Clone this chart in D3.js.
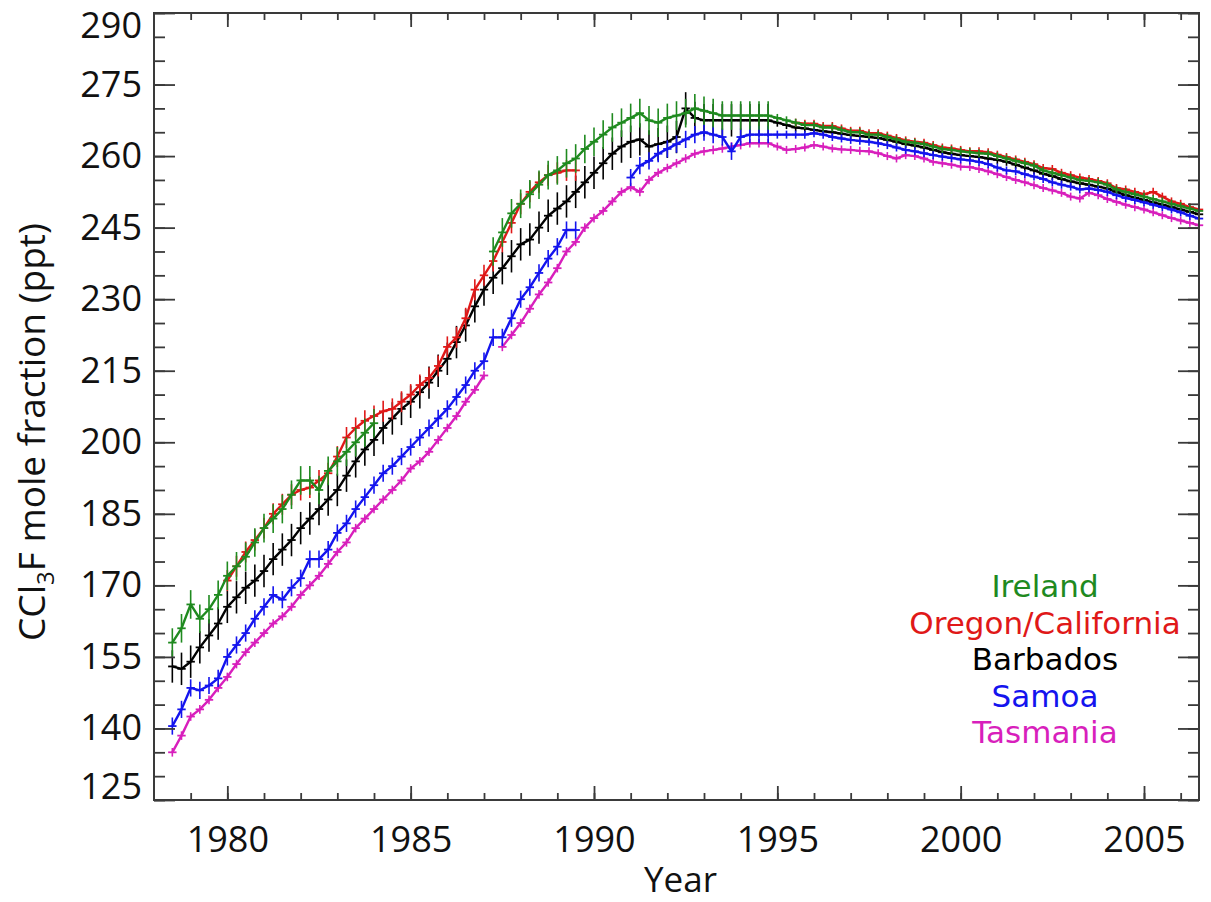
<!DOCTYPE html>
<html><head><meta charset="utf-8">
<script src="https://cdn.jsdelivr.net/npm/d3@7"></script>
<style>
body{margin:0;background:#fff}
svg{display:block}
text{font-family:"Open Sans","Noto Sans",sans-serif;}
</style>
</head><body>
<svg id="chart" width="1211" height="902"></svg>
<script>
// ---- data: quarterly readings, first value at 1978.50, step 0.25 year ----
const startYear = 1978.5;
const stepYears = 0.25;

const ireland = [
  158, 161,
  166, 163, 165, 168,
  172, 174, 176, 179,
  182, 184, 186, 189,
  192, 192, 190, 194,
  196, 198, 200, 202,
  204, null, null, null,
  null, null, null, null,
  null, null, null, null,
  null, 240, 244, 248,
  250, 252, 254, 256,
  257, 258.5, 259.5, 261.5,
  263, 264.5, 266, 267,
  268, 269, 267.5, 267,
  268, 268.5, 269, 270,
  269.5, 269, 268.5, 268.5,
  268.5, 268.5, 268.5, 268.5,
  268, 267.5, 267, 266.5,
  266.5, 266, 266, 265.5,
  265, 265, 264.5, 264.5,
  264, 263.5, 263, 262.8,
  262.5, 262, 261.5, 261.3,
  261, 260.8, 260.6, 260.5,
  260, 259.5, 259, 258.5,
  258, 257, 256.5, 256,
  255.5, 255, 254.8, 254.5,
  254, 253, 252.5, 252,
  251.5, 251, 250.5, 250,
  249.5, 249, 248.5
];

const oregonCalifornia = [
  null, null,
  null, null, null, null,
  171, 174, 177, 179.5,
  182, 185, 187, 189,
  190, 190.5, 192, 193.5,
  197, 201, 203, 204.5,
  205.5, 206.5, 207, 208.5,
  210, 212, 213.5, 216,
  220, 222, 226, 232,
  235, 238, 242, 246,
  250, 252.5, 254.5, 256,
  256.5, 257, 257, null,
  null, null, null, null,
  null, null, null, null,
  null, null, null, null,
  null, null, null, null,
  null, null, null, null,
  null, null, 267, 266.8,
  266.8, 266.3, 266.3, 265.8,
  265.3, 265.3, 264.8, 264.8,
  264.3, 263.8, 263.3, 263,
  262.8, 262.3, 261.8, 261.6,
  261.3, 261, 261, 260.8,
  260.3, 259.8, 259.3, 258.8,
  258.3, 257.5, 257.3, 256.5,
  256, 255.5, 255.2, 254.8,
  254.3, 253.3, 253, 252.5,
  252, 252.5, 251.5, 250.5,
  250, 249.3, 248.8
];

const barbados = [
  153, 152.5,
  154, 157, 159.5, 162,
  165.5, 167.5, 169.5, 171,
  173, 175.5, 177.5, 179.5,
  182, 184, 186, 188,
  190, 193, 196, 198.5,
  200.5, 203, 205, 207,
  208.5, 210.5, 212.5, 215,
  217.5, 221, 224.5, 228.5,
  232, 234.5, 236.5, 239,
  241.5, 242.5, 245, 247.5,
  249, 250.5, 252.5, 254.5,
  256.5, 258.5, 260.5, 262,
  263, 263.5, 262, 262.5,
  263, 264, 270, 268,
  267.5, 267.5, 267.5, 267.5,
  267.5, 267.5, 267.5, 267.5,
  267, 266.5, 266, 265.8,
  265.5, 265.2, 265, 264.7,
  264.4, 264.2, 264, 263.8,
  263.4, 263, 262.5, 262.2,
  261.8, 261.3, 260.8, 260.5,
  260.2, 260, 259.8, 259.5,
  259.2, 258.8, 258.2, 257.6,
  257, 256.3, 255.8, 255.2,
  254.7, 254.3, 254, 253.6,
  253.2, 252.5, 251.8, 251.3,
  250.8, 250.3, 249.8, 249.3,
  248.8, 248.3, 247.8
];

const samoa = [
  140.5, 144,
  148.5, 148, 149, 150.5,
  155, 157.5, 160, 163,
  165.5, 168, 167, 169.5,
  171.5, 175.5, 175.5, 177.5,
  181, 183, 186, 188.5,
  191, 193.5, 195, 197,
  199, 201, 203, 205,
  207, 209.5, 212, 215,
  217, 222, 222, 226,
  230, 232.5, 235.5, 238.5,
  241, 244.5, 244.5, null,
  null, null, null, null,
  255.5, 258, 259, 260.5,
  261.5, 262.5, 263.5, 264.5,
  265, 264.5, 264, 261,
  264, 264.5, 264.5, 264.5,
  264.5, 264.5, 264.5, 264.5,
  264.8, 264.5, 264, 263.7,
  263.4, 263.2, 263, 262.7,
  262.3, 261.8, 261.3, 261,
  260.6, 260.2, 259.9, 259.6,
  259.3, 259.1, 258.8, 258.3,
  257.6, 257, 256.8, 256.2,
  255.7, 255.2, 254.5, 254,
  253.6, 253, 253.2, 252.9,
  252.5, 251.8, 251.2, 250.8,
  250.3, 249.8, 249.3, 248.8,
  248.2, 247.5, 246.9
];

const tasmania = [
  135, 138.5,
  142.5, 144, 146, 148.5,
  150.8, 153.5, 156, 158,
  160, 162, 163.5, 165.5,
  168, 170, 172, 174.5,
  177, 179, 182, 184,
  186, 188, 190, 192,
  194.5, 196, 198, 200.5,
  203, 205.5, 208.5, 211,
  214, null, 220, 222.5,
  225, 228, 231, 233.5,
  236.5, 240, 242, 245,
  247, 248.5, 250.5, 252.5,
  253.5, 252.5, 255, 256.5,
  257.5, 258.5, 259.5, 260.5,
  261, 261.3, 261.6, 262,
  262.3, 262.7, 262.7, 262.7,
  262, 261.3, 261.5, 261.8,
  262.3, 262, 261.6, 261.4,
  261.3, 261.1, 261, 260.6,
  260, 259.5, 260.2, 260,
  259.5, 258.8, 258.5, 258.2,
  257.8, 257.7, 257.3, 256.8,
  256.2, 255.6, 255, 254.5,
  253.9, 253.3, 252.8, 252.3,
  251.5, 251.1, 252.3, 251.8,
  251, 250.4, 249.8, 249.3,
  248.8, 248.2, 247.6, 247,
  246.5, 246, 245.5
];

// typical half-height of error bars (ppt) before / after 1995
const errBefore1995 = [3.0, 2.2, 3.4, 1.8, 0.9];
const errAfter1995  = [0.6, 0.6, 0.7, 0.7, 0.6];

const seriesNames  = ["Ireland", "Oregon/California", "Barbados", "Samoa", "Tasmania"];
const seriesValues = [ireland, oregonCalifornia, barbados, samoa, tasmania];
const seriesColors = ["#1f8a1f", "#e01818", "#000000", "#1414ee", "#d81fbc"];
const drawOrder    = [2, 4, 3, 1, 0];

const yMajorTicks = [125, 140, 155, 170, 185, 200, 215, 230, 245, 260, 275, 290];
const yMinorTicks = d3.range(125, 291, 5);
const xMajorTicks = [1980, 1985, 1990, 1995, 2000, 2005];
const xMinorTicks = d3.range(1979, 2007, 1);

// ---- layout ----
const svg = d3.select("#chart");
const L = 154, R = 1199, T = 13, B = 800;
const x = d3.scaleLinear().domain([1978, 2006.5]).range([L, R]);
const y = d3.scaleLinear().domain([125, 290]).range([B, T]);
const axisColor = "#3a3a3a";

// ---- data marks ----
const plot = svg.append("g");
drawOrder.forEach(si => {
  const vals = seriesValues[si];
  const pts = vals.map((v, i) => ({t: startYear + i * stepYears, v: v}));
  const col = seriesColors[si];
  const line = d3.line().defined(d => d.v !== null).x(d => x(d.t)).y(d => y(d.v));
  const g = plot.append("g");
  g.append("path").datum(pts).attr("d", line)
    .attr("fill", "none").attr("stroke", col).attr("stroke-width", 2.4).attr("stroke-linejoin", "round");
  const good = pts.filter(d => d.v !== null);
  const err = d => (d.t < 1995 ? errBefore1995[si] : errAfter1995[si]);
  g.selectAll("line.eb").data(good).join("line").attr("class", "eb")
    .attr("x1", d => x(d.t)).attr("x2", d => x(d.t))
    .attr("y1", d => Math.min(y(d.v + err(d)), y(d.v) - 4))
    .attr("y2", d => Math.max(y(d.v - err(d)), y(d.v) + 4))
    .attr("stroke", col).attr("stroke-width", 1.6);
  g.selectAll("line.hb").data(good).join("line").attr("class", "hb")
    .attr("x1", d => x(d.t) - 4.2).attr("x2", d => x(d.t) + 4.2)
    .attr("y1", d => y(d.v)).attr("y2", d => y(d.v))
    .attr("stroke", col).attr("stroke-width", 1.8);
});

// ---- axes ----
function styleAxis(g) {
  g.select(".domain").remove();
  g.selectAll(".tick line").attr("stroke", axisColor).attr("stroke-width", 1.8);
}
// bottom
svg.append("g").attr("transform", `translate(0,${B})`)
  .call(d3.axisBottom(x).tickValues(xMinorTicks).tickSize(-7).tickFormat("")).call(styleAxis);
const xb = svg.append("g").attr("transform", `translate(0,${B})`)
  .call(d3.axisBottom(x).tickValues(xMajorTicks).tickSize(-14).tickPadding(26).tickFormat(d3.format("d")));
styleAxis(xb);
xb.selectAll("text").attr("font-size", 36).attr("fill", "#111");
// top
svg.append("g").attr("transform", `translate(0,${T})`)
  .call(d3.axisTop(x).tickValues(xMinorTicks).tickSize(-7).tickFormat("")).call(styleAxis);
svg.append("g").attr("transform", `translate(0,${T})`)
  .call(d3.axisTop(x).tickValues(xMajorTicks).tickSize(-14).tickFormat("")).call(styleAxis);
// left
svg.append("g").attr("transform", `translate(${L},0)`)
  .call(d3.axisLeft(y).tickValues(yMinorTicks).tickSize(-11).tickFormat("")).call(styleAxis);
const yl = svg.append("g").attr("transform", `translate(${L},0)`)
  .call(d3.axisLeft(y).tickValues(yMajorTicks).tickSize(-21).tickPadding(12).tickFormat(d3.format("d")));
styleAxis(yl);
const halfH = 13;
yl.selectAll("text").attr("font-size", 36).attr("fill", "#111")
  .attr("y", d => {
    const c = Math.max(T + halfH, Math.min(B - halfH, y(d)));
    return c - y(d);
  });
// right
svg.append("g").attr("transform", `translate(${R},0)`)
  .call(d3.axisRight(y).tickValues(yMinorTicks).tickSize(-11).tickFormat("")).call(styleAxis);
svg.append("g").attr("transform", `translate(${R},0)`)
  .call(d3.axisRight(y).tickValues(yMajorTicks).tickSize(-21).tickFormat("")).call(styleAxis);

// frame
svg.append("rect").attr("x", L).attr("y", T).attr("width", R - L).attr("height", B - T)
  .attr("fill", "none").attr("stroke", axisColor).attr("stroke-width", 2);

// ---- axis titles ----
svg.append("text").attr("x", (L + R) / 2 + 4).attr("y", 892).attr("text-anchor", "middle")
  .attr("font-size", 35).attr("fill", "#111").text("Year");
const yt = svg.append("text").attr("transform", "translate(45,432) rotate(-90)")
  .attr("text-anchor", "middle").attr("font-size", 37).attr("fill", "#111");
yt.append("tspan").text("CCl");
yt.append("tspan").attr("font-size", 24).attr("dy", 9).text("3");
yt.append("tspan").attr("dy", -9).text("F mole fraction (ppt)");

// ---- legend ----
const lg = svg.append("g");
seriesNames.forEach((n, i) => {
  lg.append("text").attr("x", 1045).attr("y", 597 + i * 36.5).attr("text-anchor", "middle")
    .style("font-family", "'DejaVu Sans', sans-serif")
    .attr("font-size", 31).attr("fill", seriesColors[i]).text(n);
});
</script>
</body></html>
